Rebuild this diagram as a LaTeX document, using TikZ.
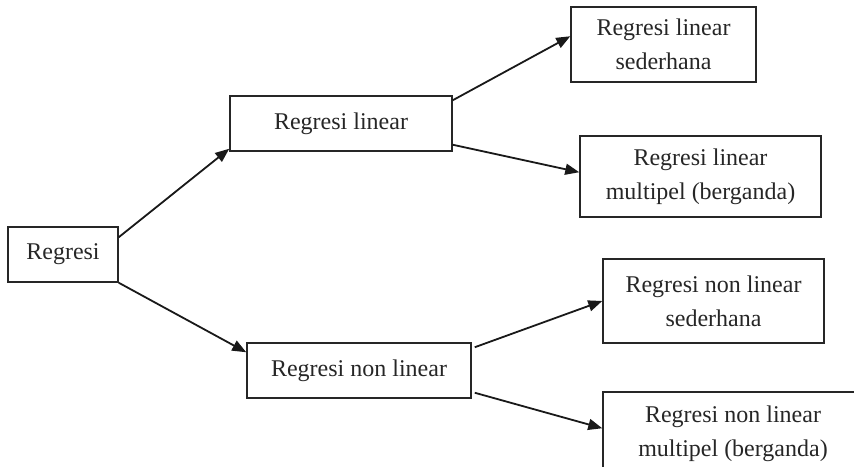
\documentclass[tikz,border=0pt]{standalone}
\usepackage{fontspec}
\setmainfont{Liberation Serif}
\usetikzlibrary{arrows.meta,calc}
\begin{document}
\begin{tikzpicture}[x=1pt,y=1pt,
  box/.style={draw=black!85,line width=1.5pt,inner sep=0pt,align=center,
    font=\fontsize{24}{34}\selectfont,text=black!85},
  conn/.style={line width=1.8pt,draw=black!90,-{Triangle[length=14pt,width=11pt]}}]
\clip (0,0) rectangle (854,466);
\useasboundingbox (0,0) rectangle (854,466);
\node[box,minimum width=110pt,minimum height=55pt] (R) at (63,211.5) {Regresi};
\node[box,minimum width=222pt,minimum height=55pt] (RL) at (341,342.5) {Regresi linear};
\node[box,minimum width=224pt,minimum height=55pt] (RNL) at (359,95.5) {Regresi non linear};
\node[box,minimum width=185pt,minimum height=75pt] (LS) at (663.5,421.5) {Regresi linear\\sederhana};
\node[box,minimum width=241pt,minimum height=81pt] (LM) at (700.5,289.5) {Regresi linear\\multipel (berganda)};
\node[box,minimum width=221pt,minimum height=84pt] (RNLS) at (713.5,165) {Regresi non linear\\sederhana};
\node[box,minimum width=260pt,minimum height=84pt] (RNLM) at (733,32) {Regresi non linear\\multipel (berganda)};
\draw[conn] ($(R.north east)+(0,-11)$) -- ($(RL.south west)+(0,3)$);
\draw[conn] (R.south east) -- ($(RNL.north west)+(0,-10)$);
\draw[conn] ($(RL.north east)+(0,-5)$) -- ($(LS.north west)+(0,-30)$);
\draw[conn] ($(RL.south east)+(0,7)$) -- ($(LM.north west)+(0,-37)$);
\draw[conn] ($(RNL.north east)+(3,-5)$) -- (RNLS.west);
\draw[conn] ($(RNL.south east)+(3,6)$) -- ($(RNLM.north west)+(0,-37)$);
\end{tikzpicture}
\end{document}
